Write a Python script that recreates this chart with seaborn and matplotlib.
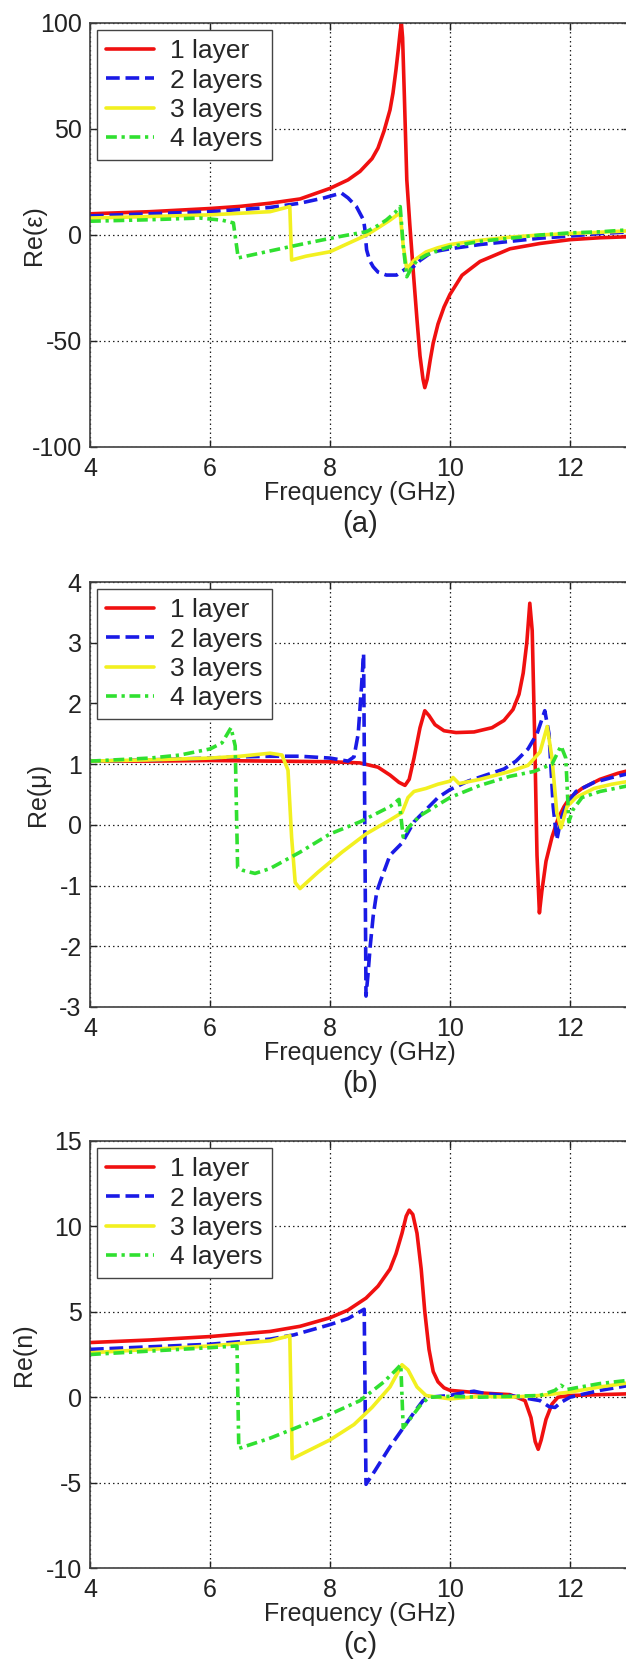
import numpy as np
import pandas as pd
import matplotlib
matplotlib.use("Agg")
import matplotlib.pyplot as plt
import seaborn as sns

# ---- data (frequency in GHz) ----
labels = ["1 layer", "2 layers", "3 layers", "4 layers"]
colors = ["#f01010", "#1a1ae6", "#f2f020", "#30e030"]
styles = ["-", (0, (3.8, 1.6)), "-", (0, (3.0, 1.3, 0.9, 1.3))]

# (a) Re(eps)
eps1_f = [4, 5, 6, 6.5, 7, 7.5, 8, 8.3, 8.5, 8.7, 8.8, 8.9, 9.0, 9.05, 9.1, 9.14, 9.17, 9.19, 9.21,
          9.24, 9.28, 9.33, 9.39, 9.45, 9.5, 9.55, 9.58, 9.62, 9.67, 9.72, 9.8, 9.9, 10.0, 10.2,
          10.5, 11.0, 11.5, 12.0, 12.5, 13.0]
eps1_v = [10, 11, 12.5, 13.5, 15, 17, 22, 26, 30, 36, 41, 49, 59, 67, 78, 88, 96, 100, 93,
          65, 26, 5, -18, -40, -57, -68, -72, -68, -59, -51, -42, -34, -28, -19,
          -12.5, -6.5, -4, -2.2, -1.3, -0.8]
eps2_f = [4, 5, 6, 7, 7.5, 7.9, 8.19, 8.3, 8.44, 8.56, 8.58, 8.61, 8.66, 8.72, 8.8, 8.94, 9.11,
          9.28, 9.39, 9.5, 9.65, 9.8, 10.0, 10.5, 11.0, 11.5, 12.0, 12.5, 13.0]
eps2_v = [9, 10, 11, 13, 15, 17.5, 19.8, 17.5, 13.4, 7, 3, -7, -12, -15, -17.5, -18.9, -18.9,
          -15.6, -15, -12, -9, -7.5, -6.5, -4.5, -3, -1.5, -0.5, 0.7, 1.5]
eps3_f = [4, 5, 6, 7, 7.33, 7.36, 7.6, 8.0, 8.3, 8.61, 8.83, 9.0, 9.12, 9.17, 9.22, 9.28, 9.4,
          9.6, 9.8, 10.0, 10.5, 11.0, 11.5, 12.0, 12.5, 13.0]
eps3_v = [8, 8.7, 9.5, 11, 13.4, -11.8, -10, -7.9, -4, 0, 3.9, 7, 9.5, 10, -5, -16, -12,
          -8, -6, -4.5, -2.5, -1, 0, 0.7, 1.3, 2]
eps4_f = [4, 5, 5.83, 6.2, 6.39, 6.47, 6.6, 6.94, 7.5, 8.0, 8.3, 8.61, 8.8, 8.94, 9.08, 9.17,
          9.22, 9.28, 9.35, 9.45, 9.6, 9.83, 10.0, 10.5, 11.0, 11.5, 12.0, 12.5, 13.0]
eps4_v = [6.5, 7.2, 8, 7, 5.7, -10.8, -10, -7.9, -4.5, -1.6, 0, 1.6, 4.5, 7.1, 10.5, 13.4,
          -5, -19.7, -16, -12, -9.5, -7, -5.5, -3, -1.5, 0, 1, 1.5, 2.5]

# (b) Re(mu)
mu1_f = [4, 5, 6, 7, 8, 8.5, 8.8, 9.0, 9.15, 9.25, 9.32, 9.4, 9.5, 9.58, 9.65, 9.75, 9.9, 10.1, 10.4,
         10.7, 10.9, 11.05, 11.15, 11.22, 11.28, 11.33, 11.37, 11.41, 11.45, 11.49, 11.53, 11.6,
         11.7, 11.8, 11.9, 12.0, 12.2, 12.5, 12.8, 13.0]
mu1_v = [1.05, 1.05, 1.06, 1.05, 1.04, 1.02, 0.95, 0.82, 0.7, 0.65, 0.75, 1.1, 1.6, 1.88, 1.8, 1.65,
         1.55, 1.52, 1.53, 1.6, 1.72, 1.9, 2.15, 2.5, 3.0, 3.65, 3.2, 1.5, -0.5, -1.45, -1.1, -0.6,
         -0.2, 0.1, 0.3, 0.45, 0.6, 0.75, 0.85, 0.9]
mu2_f = [4, 5, 6, 6.5, 7, 7.5, 8, 8.3, 8.4, 8.47, 8.52, 8.56, 8.6, 8.63, 8.67, 8.72, 8.78, 8.85,
         9.0, 9.2, 9.4, 9.6, 9.8, 10.0, 10.3, 10.6, 10.9, 11.1, 11.3, 11.45, 11.58, 11.65, 11.72,
         11.78, 11.85, 11.95, 12.1, 12.4, 12.7, 13.0]
mu2_v = [1.05, 1.07, 1.1, 1.12, 1.13, 1.13, 1.1, 1.05, 1.12, 1.5, 2.2, 2.82, -2.82, -2.5, -2.0,
         -1.5, -1.1, -0.9, -0.5, -0.3, 0.05, 0.25, 0.45, 0.58, 0.72, 0.82, 0.92, 1.05, 1.25, 1.5,
         1.88, 1.5, 0.3, -0.25, 0.1, 0.35, 0.55, 0.7, 0.78, 0.85]
mu3_f = [4, 5, 6, 6.5, 7.0, 7.2, 7.3, 7.36, 7.42, 7.5, 7.8, 8.2, 8.6, 9.0, 9.2, 9.3, 9.4, 9.6,
         9.8, 10.0, 10.05, 10.15, 10.5, 11.0, 11.3, 11.5, 11.62, 11.7, 11.78, 11.85, 11.95, 12.1,
         12.4, 12.7, 13.0]
mu3_v = [1.05, 1.07, 1.1, 1.13, 1.18, 1.15, 0.9, -0.2, -0.95, -1.05, -0.78, -0.45, -0.15, 0.08,
         0.2, 0.45, 0.55, 0.6, 0.67, 0.72, 0.78, 0.68, 0.75, 0.88, 0.98, 1.2, 1.62, 1.1, 0.2,
         -0.05, 0.3, 0.45, 0.6, 0.67, 0.72]
mu4_f = [4, 5, 5.5, 6.0, 6.2, 6.35, 6.42, 6.46, 6.55, 6.75, 7.0, 7.5, 8.0, 8.5, 9.0, 9.15, 9.22,
         9.3, 9.5, 10.0, 10.5, 11.0, 11.4, 11.7, 11.85, 11.93, 11.98, 12.05, 12.2, 12.5, 13.0]
mu4_v = [1.05, 1.1, 1.15, 1.25, 1.35, 1.6, 1.3, -0.7, -0.75, -0.8, -0.72, -0.45, -0.15, 0.05,
         0.3, 0.42, -0.2, -0.05, 0.15, 0.45, 0.65, 0.8, 0.88, 1.0, 1.3, 1.1, 0.05, 0.25, 0.45,
         0.55, 0.65]

# (c) Re(n)
n1_f = [4, 5, 6, 7, 7.5, 8, 8.3, 8.6, 8.8, 9.0, 9.1, 9.2, 9.27, 9.32, 9.38, 9.45, 9.52, 9.58,
        9.65, 9.72, 9.8, 9.9, 10.0, 10.5, 11.0, 11.25, 11.35, 11.42, 11.47, 11.52, 11.6, 11.7,
        11.8, 12.0, 12.5, 13.0]
n1_v = [3.2, 3.35, 3.55, 3.85, 4.15, 4.65, 5.1, 5.8, 6.5, 7.5, 8.4, 9.6, 10.6, 10.95, 10.7, 9.6,
        7.5, 5.0, 2.8, 1.5, 0.9, 0.55, 0.4, 0.25, 0.15, -0.2, -1.2, -2.6, -3.05, -2.5, -1.3,
        -0.4, 0.0, 0.1, 0.15, 0.2]
n2_f = [4, 5, 6, 7, 7.4, 8, 8.3, 8.57, 8.6, 8.75, 9.0, 9.2, 9.4, 9.55, 9.65, 10.0, 10.2, 10.4,
        10.6, 11.0, 11.5, 11.65, 11.75, 11.85, 12.0, 12.5, 13.0]
n2_v = [2.8, 2.95, 3.1, 3.4, 3.65, 4.25, 4.6, 5.15, -5.1, -4.3, -2.9, -1.9, -0.9, -0.2, 0.0, 0.1,
        0.25, 0.35, 0.2, 0.1, -0.2, -0.55, -0.6, -0.3, 0.0, 0.4, 0.7]
n3_f = [4, 5, 6, 7, 7.33, 7.37, 7.6, 8.0, 8.4, 8.7, 9.0, 9.2, 9.3, 9.45, 9.6, 9.8, 10.0, 10.5,
        11.0, 11.5, 12.0, 12.5, 13.0]
n3_v = [2.6, 2.8, 3.0, 3.3, 3.6, -3.6, -3.2, -2.5, -1.6, -0.6, 0.6, 1.9, 1.6, 0.6, 0.1, 0.0,
        -0.1, 0.05, 0.0, 0.1, 0.3, 0.6, 0.85]
n4_f = [4, 5, 6, 6.45, 6.48, 7.0, 7.5, 8.0, 8.5, 8.9, 9.1, 9.18, 9.22, 9.35, 9.5, 9.65, 10.0,
        10.5, 11.0, 11.5, 11.75, 11.85, 11.95, 12.1, 12.5, 13.0]
n4_v = [2.5, 2.7, 2.9, 3.0, -3.0, -2.4, -1.7, -1.0, -0.2, 0.9, 1.6, 1.9, -1.8, -1.2, -0.5, 0.0,
        0.05, 0.0, 0.05, 0.1, 0.4, 0.7, 0.45, 0.55, 0.8, 1.0]

x_ticks = [4, 6, 8, 10, 12]
eps_ticks = [-100, -50, 0, 50, 100]
mu_ticks = [-3, -2, -1, 0, 1, 2, 3, 4]
n_ticks = [-10, -5, 0, 5, 10, 15]

sns.set_style("ticks")
plt.rcParams.update({
    "font.family": ["Liberation Sans", "DejaVu Sans"],
    "font.size": 18,
    "axes.linewidth": 1.2,
    "axes.edgecolor": "#404040",
    "axes.unicode_minus": False,
})

W, H = 626, 1662
fig = plt.figure(figsize=(W / 100, H / 100), dpi=100)

# pixel boxes: (top, bottom) of each axes, x from 90 to 630
panels = [
    dict(top=23, bot=447, series=[(eps1_f, eps1_v), (eps2_f, eps2_v), (eps3_f, eps3_v), (eps4_f, eps4_v)],
         ylim=(-100, 100), yticks=eps_ticks, ylabel="Re(ε)", tag="(a)", ylx=34),
    dict(top=582, bot=1007, series=[(mu1_f, mu1_v), (mu2_f, mu2_v), (mu3_f, mu3_v), (mu4_f, mu4_v)],
         ylim=(-3, 4), yticks=mu_ticks, ylabel="Re(μ)", tag="(b)", ylx=38),
    dict(top=1141, bot=1568, series=[(n1_f, n1_v), (n2_f, n2_v), (n3_f, n3_v), (n4_f, n4_v)],
         ylim=(-10, 15), yticks=n_ticks, ylabel="Re(n)", tag="(c)", ylx=24),
]

for p in panels:
    h = p["bot"] - p["top"]
    ax = fig.add_axes([90 / W, 1 - p["bot"] / H, 540 / W, h / H])
    for (f, v), lab, c, ls in zip(p["series"], labels, colors, styles):
        df = pd.DataFrame({"f": f, "v": v})
        sns.lineplot(data=df, x="f", y="v", ax=ax, sort=False, estimator=None,
                     color=c, linestyle=ls, linewidth=2.6, label=lab)
    ax.set_xlim(4, 13)
    ax.set_ylim(*p["ylim"])
    ax.set_xticks(x_ticks)
    ax.set_yticks(p["yticks"])
    ax.grid(True, color="#222222", linestyle=(0, (1.2, 2.4)), linewidth=0.9)
    ax.tick_params(direction="in", length=5, width=1, top=True, right=True,
                   labelsize=18, pad=6, colors="#222222")
    ax.tick_params(axis="x", pad=7)
    ax.set_xlabel("Frequency (GHz)", fontsize=18)
    ax.xaxis.set_label_coords(0.5, -46 / h)
    ax.xaxis.label.set_verticalalignment("center")
    ax.set_ylabel(p["ylabel"], fontsize=18)
    ax.yaxis.set_label_coords((p["ylx"] - 90) / 540, 0.5)
    ax.yaxis.label.set_verticalalignment("center")
    ax.text(0.5, -77 / h, p["tag"], transform=ax.transAxes, ha="center", va="center", fontsize=21)
    leg = ax.legend(loc="upper left", fontsize=19, handlelength=1.8, handletextpad=0.62,
                    labelspacing=0.2, borderpad=0.35, borderaxespad=0.27, fancybox=False,
                    framealpha=1, edgecolor="#444444")
    leg.get_frame().set_linewidth(1.0)

fig.savefig("out.png", dpi=100)
